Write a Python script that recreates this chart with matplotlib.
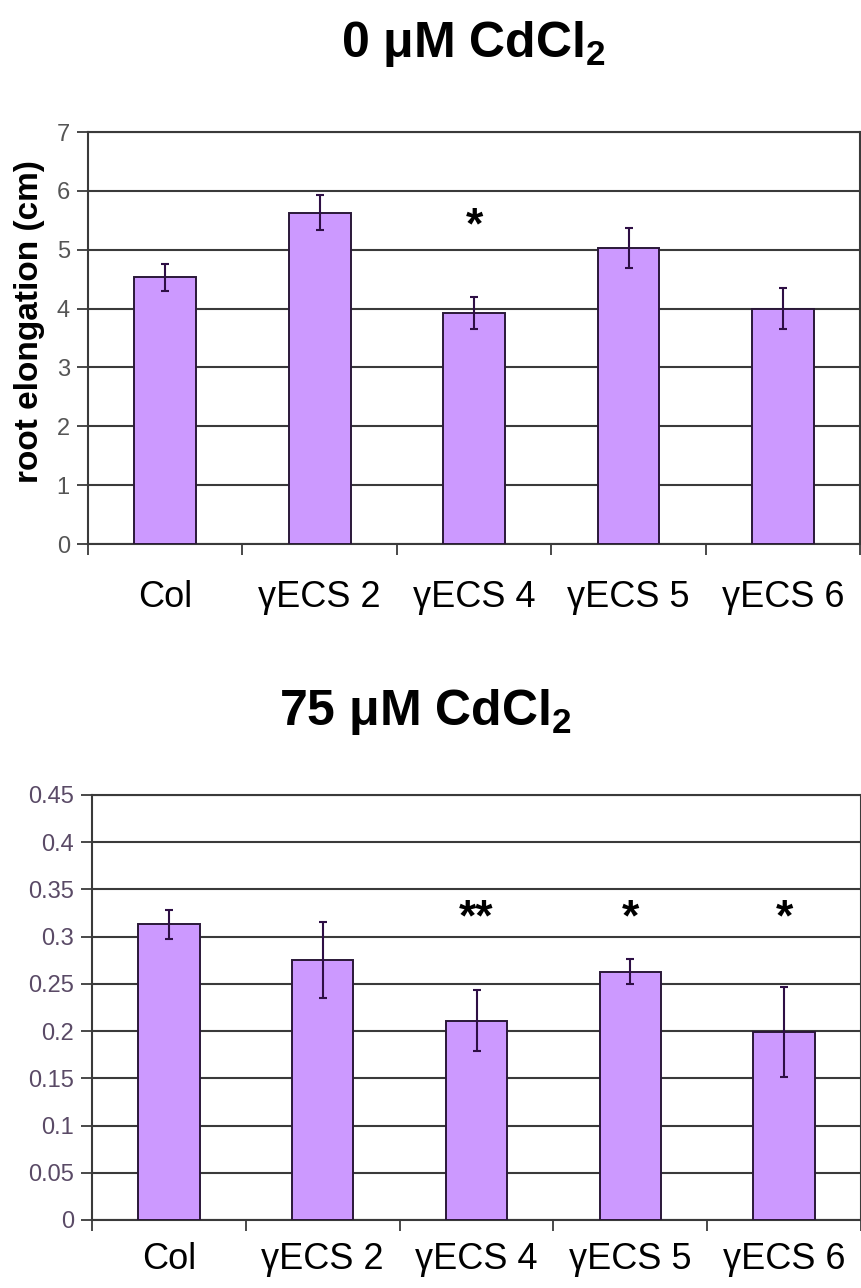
"""
Root elongation bar charts, 0 and 75 uM CdCl2
"""
import matplotlib
matplotlib.use('Agg')
import matplotlib.pyplot as plt
import numpy as np

plt.rcParams['font.family'] = ['Liberation Sans', 'DejaVu Sans']
plt.rcParams['mathtext.fontset'] = 'custom'
plt.rcParams['mathtext.rm'] = 'Liberation Sans'
plt.rcParams['mathtext.bf'] = 'Liberation Sans:bold'

lines = ['Col', 'γECS 2', 'γECS 4', 'γECS 5', 'γECS 6']

# 0 uM CdCl2
ctrl_mean = [4.53, 5.63, 3.92, 5.03, 4.00]
ctrl_err = [0.23, 0.30, 0.27, 0.34, 0.35]
ctrl_sig = ['', '', '*', '', '']
ctrl_sig_y = 5.38

# 75 uM CdCl2
cd_mean = [0.313, 0.275, 0.211, 0.263, 0.199]
cd_err = [0.015, 0.040, 0.032, 0.013, 0.048]
cd_sig = ['', '', '**', '*', '*']
cd_sig_y = 0.319

BAR_COLOR = '#cc99ff'
EDGE = '#2a1838'
GRID = '#3a3a3a'


def draw_panel(ax, means, errs, sig, sig_y, ymax, ystep, tick_color, label_pad):
  x = np.arange(len(lines))
  ax.bar(x, means, width=0.4, color=BAR_COLOR, edgecolor=EDGE, linewidth=1.4,
         zorder=3)
  ax.errorbar(x, means, yerr=errs, fmt='none', ecolor='#2e0f45',
              elinewidth=1.5, capsize=3, capthick=1.5, zorder=4)
  for xi, s in zip(x, sig):
    if s:
      ax.text(xi, sig_y, s, ha='center', va='center', fontsize=32,
              fontweight='bold', color='black', zorder=5)

  ax.set_xlim(-0.5, len(lines) - 0.5)
  ax.set_ylim(0, ymax)
  ax.set_yticks(np.arange(0, ymax + ystep / 2, ystep))
  ax.yaxis.grid(True, color=GRID, linewidth=1.5, zorder=0)
  ax.set_axisbelow(True)

  # category boundaries carry the tick marks, labels sit under the bars
  ax.set_xticks(np.arange(len(lines) + 1) - 0.5)
  ax.set_xticklabels([])
  ax.set_xticks(x, minor=True)
  ax.set_xticklabels(lines, minor=True, fontsize=26)
  ax.tick_params(axis='x', which='major', length=8, width=1.3, color=GRID,
                 direction='out')
  ax.tick_params(axis='x', which='minor', length=0, pad=label_pad)
  ax.tick_params(axis='y', length=8, width=1.3, color=GRID, labelsize=17,
                 labelcolor=tick_color, pad=5)

  for side in ['left', 'bottom', 'right', 'top']:
    ax.spines[side].set_color(GRID)
    ax.spines[side].set_linewidth(1.5)


fig = plt.figure(figsize=(8.62, 12.88), dpi=100)

ax1 = fig.add_axes([0.102, 0.5776, 0.896, 0.3199])
draw_panel(ax1, ctrl_mean, ctrl_err, ctrl_sig, ctrl_sig_y, 7, 1, '#555555', 26)
ax1.set_ylabel('root elongation (cm)', fontsize=24, fontweight='bold')
ax1.yaxis.set_label_coords(-0.056, 0.54)

ax2 = fig.add_axes([0.1067, 0.0528, 0.8923, 0.33])
draw_panel(ax2, cd_mean, cd_err, cd_sig, cd_sig_y, 0.45, 0.05, '#5a4a66', 16)
ax2.set_yticklabels(['0', '0.05', '0.1', '0.15', '0.2', '0.25', '0.3',
                     '0.35', '0.4', '0.45'])

fig.text(0.549, 0.966, r'0 μM CdCl$_\mathbf{2}$', ha='center', va='center',
         fontsize=36, fontweight='bold')
fig.text(0.494, 0.447, r'75 μM CdCl$_\mathbf{2}$', ha='center', va='center',
         fontsize=36, fontweight='bold')

fig.savefig('out.png', dpi=100)
